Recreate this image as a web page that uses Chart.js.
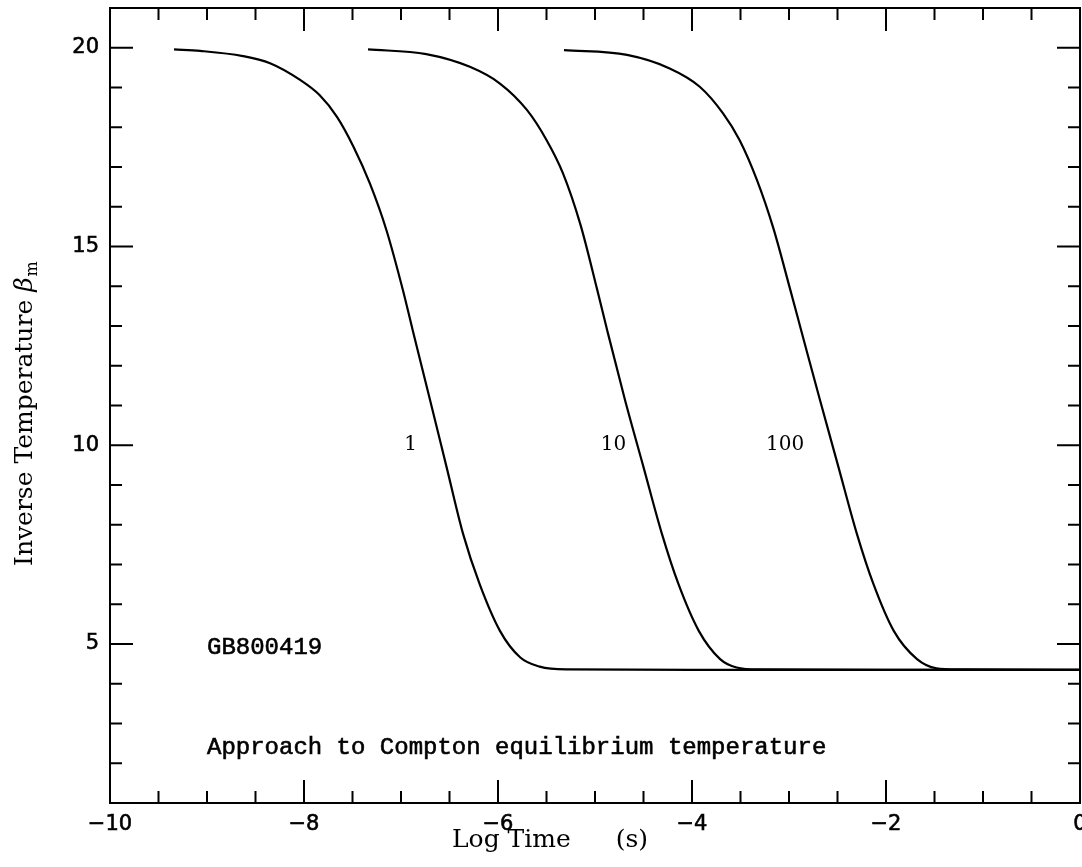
<!DOCTYPE html>
<html>
<head>
<meta charset="utf-8">
<script src="https://cdn.jsdelivr.net/npm/chart.js@4.4.1/dist/chart.umd.min.js"></script>
<style>
html, body { margin: 0; padding: 0; background: #fff; }
</style>
</head>
<body>
<canvas id="grafico" width="1082" height="867"></canvas>
<script>
// curva "1"
const curva1X = [-9.34, -9.07, -8.63, -8.35, -8.04, -7.84, -7.66, -7.49, -7.32, -7.15, -6.98, -6.88, -6.70, -6.53, -6.36, -6.19, -5.98, -5.77, -5.57, -5.30, -4.00, -2.00, 0.00];
const curva1Y = [19.96, 19.92, 19.79, 19.61, 19.19, 18.81, 18.26, 17.51, 16.58, 15.41, 13.90, 12.90, 11.13, 9.45, 7.77, 6.51, 5.33, 4.66, 4.43, 4.36, 4.35, 4.35, 4.35];
// curva "10"
const curva10X = [-7.34, -6.74, -6.29, -5.98, -5.70, -5.50, -5.33, -5.15, -4.98, -4.87, -4.69, -4.50, -4.31, -4.14, -3.93, -3.71, -3.54, -3.30, -2.00, 0.00];
const curva10Y = [19.96, 19.84, 19.52, 19.10, 18.43, 17.68, 16.84, 15.55, 13.94, 12.85, 11.13, 9.45, 7.77, 6.51, 5.33, 4.62, 4.41, 4.36, 4.35, 4.35];
// curva "100"
const curva100X = [-5.32, -4.67, -4.23, -3.92, -3.68, -3.51, -3.33, -3.16, -2.99, -2.87, -2.68, -2.49, -2.30, -2.13, -1.92, -1.68, -1.48, -1.25, 0.00];
const curva100Y = [19.94, 19.82, 19.48, 19.02, 18.35, 17.68, 16.67, 15.45, 13.94, 12.85, 11.13, 9.45, 7.77, 6.51, 5.33, 4.62, 4.39, 4.36, 4.35];

const rotulosCurvas = ['1', '10', '100'];
const rotulosX = [-6.90, -4.81, -3.04];
const rotulosY = [10, 10, 10];

const xMarcasMaiores = [-10, -8, -6, -4, -2, 0];
const xMarcasMenores = [-9.5, -9, -8.5, -7.5, -7, -6.5, -5.5, -5, -4.5, -3.5, -3, -2.5, -1.5, -1, -0.5];
const yMarcasMaiores = [5, 10, 15, 20];
const yMarcasMenores = [2, 3, 4, 6, 7, 8, 9, 11, 12, 13, 14, 16, 17, 18, 19];

const pontos = (xs, ys) => xs.map((v, i) => ({ x: v, y: ys[i] }));
const fmt = v => (v < 0 ? '\u2212' + Math.abs(v) : String(v));

const serieBase = {
    borderColor: '#000',
    borderWidth: 2.2,
    pointRadius: 0,
    fill: false,
    cubicInterpolationMode: 'monotone'
};

// moldura, marcas internas e textos
const molduraPlugin = {
    id: 'moldura',
    afterDraw(chart) {
        const { ctx, chartArea: a, scales: { x, y } } = chart;
        ctx.save();
        ctx.strokeStyle = '#000';
        ctx.lineWidth = 2;
        ctx.strokeRect(a.left, a.top, a.right - a.left, a.bottom - a.top);

        ctx.beginPath();
        const marcaX = (v, len) => {
            const px = x.getPixelForValue(v);
            ctx.moveTo(px, a.bottom); ctx.lineTo(px, a.bottom - len);
            ctx.moveTo(px, a.top); ctx.lineTo(px, a.top + len);
        };
        const marcaY = (v, len) => {
            const py = y.getPixelForValue(v);
            ctx.moveTo(a.left, py); ctx.lineTo(a.left + len, py);
            ctx.moveTo(a.right, py); ctx.lineTo(a.right - len, py);
        };
        xMarcasMaiores.forEach(v => marcaX(v, 23));
        xMarcasMenores.forEach(v => marcaX(v, 12));
        yMarcasMaiores.forEach(v => marcaY(v, 23));
        yMarcasMenores.forEach(v => marcaY(v, 12));
        ctx.stroke();

        ctx.fillStyle = '#000';
        // rotulos das curvas
        ctx.font = '20px "DejaVu Serif"';
        ctx.textAlign = 'center';
        ctx.textBaseline = 'middle';
        rotulosCurvas.forEach((t, i) => {
            ctx.fillText(t, x.getPixelForValue(rotulosX[i]), y.getPixelForValue(rotulosY[i]));
        });

        // anotacoes
        ctx.font = '24px "Liberation Mono"';
        ctx.textAlign = 'left';
        ctx.textBaseline = 'alphabetic';
        ctx.lineWidth = 0.6;
        const anota = (t, vx, vy) => {
            const px = x.getPixelForValue(vx), py = y.getPixelForValue(vy);
            ctx.fillText(t, px, py);
            ctx.strokeText(t, px, py);
        };
        anota('GB800419', -9.0, 4.76);
        anota('Approach to Compton equilibrium temperature', -9.0, 2.24);

        // titulo eixo x
        ctx.font = '25px "DejaVu Serif"';
        ctx.textAlign = 'left';
        ctx.fillText('Log Time', 452, 847);
        ctx.textAlign = 'right';
        ctx.fillText('(s)', 648, 847);

        // titulo eixo y
        ctx.translate(32, 566);
        ctx.rotate(-Math.PI / 2);
        ctx.textAlign = 'left';
        const p1 = 'Inverse Temperature ';
        ctx.font = '25px "DejaVu Serif"';
        ctx.fillText(p1, 0, 0);
        let cx = ctx.measureText(p1).width;
        ctx.font = 'italic 25px "DejaVu Serif"';
        ctx.fillText('\u03b2', cx, 0);
        cx += ctx.measureText('\u03b2').width;
        ctx.font = '16px "DejaVu Serif"';
        ctx.fillText('m', cx + 1, 5);
        ctx.restore();
    }
};

const fonteMarcas = { family: 'DejaVu Sans', size: 21 };

new Chart(document.getElementById('grafico'), {
    type: 'line',
    data: {
        datasets: [
            { ...serieBase, label: '1', data: pontos(curva1X, curva1Y) },
            { ...serieBase, label: '10', data: pontos(curva10X, curva10Y) },
            { ...serieBase, label: '100', data: pontos(curva100X, curva100Y) }
        ]
    },
    options: {
        responsive: false,
        animation: false,
        layout: { padding: { top: 8, right: 2, left: 0, bottom: 0 } },
        plugins: { legend: { display: false }, tooltip: { enabled: false } },
        scales: {
            x: {
                type: 'linear', min: -10, max: 0,
                afterBuildTicks: s => { s.ticks = xMarcasMaiores.map(v => ({ value: v })); },
                afterFit: s => { s.height = 64; s.paddingLeft = 0; s.paddingRight = 0; },
                grid: { display: false, drawTicks: false },
                border: { display: false },
                ticks: {
                    autoSkip: false, maxRotation: 0, padding: 9, color: '#000',
                    textStrokeColor: '#000', textStrokeWidth: 0.6,
                    font: fonteMarcas,
                    callback: v => fmt(v)
                }
            },
            y: {
                type: 'linear', min: 1, max: 21,
                afterBuildTicks: s => { s.ticks = yMarcasMaiores.map(v => ({ value: v })); },
                afterFit: s => { s.width = 110; s.paddingTop = 0; s.paddingBottom = 0; },
                grid: { display: false, drawTicks: false },
                border: { display: false },
                ticks: {
                    padding: 11, color: '#000',
                    textStrokeColor: '#000', textStrokeWidth: 0.6,
                    font: fonteMarcas,
                    callback: v => fmt(v)
                }
            }
        }
    },
    plugins: [molduraPlugin]
});
</script>
</body>
</html>
